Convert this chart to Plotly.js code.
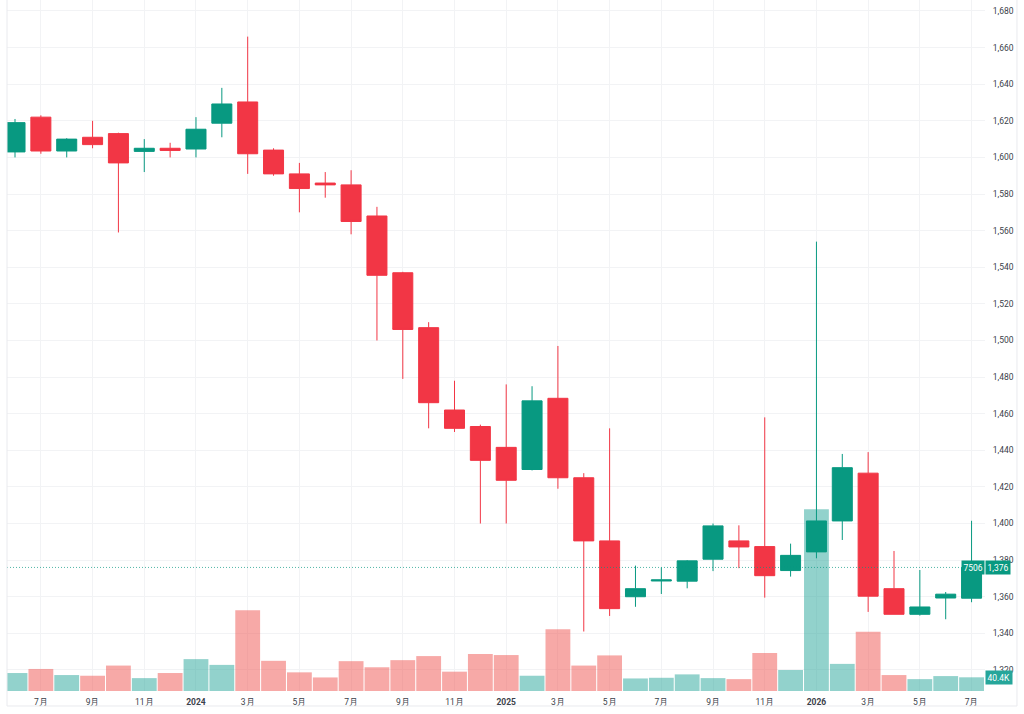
<!DOCTYPE html>
<html>
<head>
<meta charset="utf-8">
<script src="https://cdn.plot.ly/plotly-3.0.1.min.js"></script>
<style>
  html, body { margin: 0; padding: 0; background: #ffffff; }
  #chart { width: 1024px; height: 714px; }
</style>
</head>
<body>
<div id="chart"></div>
<script>
// ---- Data (monthly candles) ----
const months = [
  '2023-06','2023-07','2023-08','2023-09','2023-10','2023-11','2023-12',
  '2024-01','2024-02','2024-03','2024-04','2024-05','2024-06','2024-07','2024-08','2024-09','2024-10','2024-11','2024-12',
  '2025-01','2025-02','2025-03','2025-04','2025-05','2025-06','2025-07','2025-08','2025-09','2025-10','2025-11','2025-12',
  '2026-01','2026-02','2026-03','2026-04','2026-05','2026-06','2026-07'
];
const openP  = [1603, 1622, 1603.5, 1611, 1613, 1603.3, 1605, 1604.6, 1618.7, 1630.3, 1604, 1591, 1586, 1585, 1568, 1537, 1507, 1462, 1453,
                1441.6, 1429.5, 1468.4, 1425, 1390.5, 1360, 1368.6, 1368.5, 1380.5, 1390.5, 1387.4, 1374.3,
                1384.5, 1401.4, 1427.5, 1364.4, 1350.4, 1359.3, 1359.2];
const highP  = [1621, 1623, 1610.5, 1620, 1613.5, 1610, 1608, 1622, 1638, 1666, 1605, 1597, 1592, 1593, 1573, 1537.5, 1510, 1478, 1454,
                1476, 1475, 1497, 1427.5, 1452, 1377, 1376, 1380, 1400, 1399, 1458, 1389,
                1554, 1438, 1439, 1385, 1374.6, 1362.6, 1401.5];
const lowP   = [1600, 1602, 1600, 1605, 1559, 1592, 1600, 1600, 1611, 1591, 1590, 1570, 1578, 1558, 1500, 1479, 1452, 1450, 1400,
                1400, 1429, 1419, 1341, 1349.5, 1354.5, 1361.5, 1364.6, 1374, 1375.6, 1359.5, 1371,
                1381, 1391, 1351.7, 1350.4, 1349.7, 1347.7, 1357];
const closeP = [1619, 1603.5, 1610, 1607, 1597, 1605, 1603.8, 1615.4, 1629.2, 1602, 1591, 1583, 1585, 1565, 1535.6, 1506, 1466, 1452, 1434.5,
                1423.6, 1467, 1425, 1390.5, 1353.5, 1364.4, 1369.2, 1379.6, 1398.7, 1387.2, 1371.5, 1382.6,
                1401.4, 1430.5, 1360.3, 1350.4, 1354.4, 1361.4, 1376];
const volume = [53000, 65000, 47000, 45000, 75000, 38000, 53000, 94000, 77000, 238000, 89000, 55000, 40000, 88000, 70000, 91000, 103000, 57000, 109000,
                106000, 45000, 182000, 75000, 105000, 37000, 39000, 49000, 38000, 35000, 112000, 62000,
                536000, 80000, 175000, 47000, 35000, 44000, 40400];
const tickMonths = ['2023-07','2023-09','2023-11','2024-01','2024-03','2024-05','2024-07','2024-09','2024-11',
                    '2025-01','2025-03','2025-05','2025-07','2025-09','2025-11','2026-01','2026-03','2026-05','2026-07'];
const tickLabels = ['7月','9月','11月','<b>2024</b>','3月','5月','7月','9月','11月',
                    '<b>2025</b>','3月','5月','7月','9月','11月','<b>2026</b>','3月','5月','7月'];
const symbolLabel = '7506';

// ---- Styles ----
const UP = '#089981', DOWN = '#F23645';
const UP_VOL = 'rgba(38,166,154,0.5)', DOWN_VOL = 'rgba(239,83,80,0.5)';
const GRID = '#f2f3f5';
const TXT = '#3b3f4a';
const FONT = 'Roboto, "Liberation Sans", sans-serif';

const volColors = closeP.map((c, i) => (c >= openP[i] ? UP_VOL : DOWN_VOL));
const lastIdx = closeP.length - 1;
const lastClose = closeP[lastIdx];
const lastVol = volume[lastIdx];
const fmtPrice = v => Math.round(v).toLocaleString('en-US');
const fmtVol = v => (v / 1000).toFixed(1) + 'K';

const volTrace = {
  type: 'bar', x: months, y: volume, yaxis: 'y',
  marker: { color: volColors, line: { width: 0 } },
  hoverinfo: 'skip'
};
const candleTrace = {
  type: 'candlestick', x: months, open: openP, high: highP, low: lowP, close: closeP,
  yaxis: 'y2', whiskerwidth: 0,
  increasing: { line: { color: UP, width: 1 }, fillcolor: UP },
  decreasing: { line: { color: DOWN, width: 1 }, fillcolor: DOWN },
  hoverinfo: 'skip'
};

const layout = {
  width: 1024, height: 714,
  margin: { l: 7, r: 39, t: 0, b: 23, pad: 0 },
  paper_bgcolor: '#ffffff', plot_bgcolor: '#ffffff',
  showlegend: false,
  bargap: 0.04,
  boxgap: 0.226, boxgroupgap: 0,
  font: { family: FONT, size: 8.5, color: TXT },
  xaxis: {
    type: 'category', range: [-0.31, 37.52],
    tickmode: 'array', tickvals: tickMonths, ticktext: tickLabels,
    showgrid: true, gridcolor: GRID, gridwidth: 1,
    zeroline: false, showline: false,
    ticks: 'outside', ticklen: 3, tickcolor: 'rgba(0,0,0,0)',
    tickfont: { family: FONT, size: 8.5, color: TXT },
    rangeslider: { visible: false }, fixedrange: true
  },
  yaxis: {
    range: [0, 2038000], visible: false, showgrid: false, zeroline: false, fixedrange: true
  },
  yaxis2: {
    overlaying: 'y', side: 'right',
    range: [1308.5, 1686], tick0: 0, dtick: 20, tickformat: ',d',
    showgrid: true, gridcolor: GRID, gridwidth: 1,
    zeroline: false, showline: false,
    ticks: 'outside', ticklen: 5, tickcolor: 'rgba(0,0,0,0)',
    tickfont: { family: FONT, size: 8.5, color: TXT },
    fixedrange: true
  },
  shapes: [
    { type: 'line', xref: 'paper', yref: 'y2', x0: 0, x1: 1, y0: lastClose, y1: lastClose,
      line: { color: 'rgba(8,153,129,0.7)', width: 1, dash: '1px,2px' } },
    { type: 'line', xref: 'paper', yref: 'paper', x0: 0, x1: 0, y0: -0.0217, y1: 1,
      line: { color: '#e9eaee', width: 1 } },
    { type: 'line', xref: 'paper', yref: 'paper', x0: 0, x1: 1.0327, y0: -0.0217, y1: -0.0217,
      line: { color: '#e9eaee', width: 1 } },
    { type: 'line', xref: 'paper', yref: 'paper', x0: 1.0327, x1: 1.0327, y0: -0.0217, y1: 1,
      line: { color: '#e9eaee', width: 1 } }
  ],
  annotations: [
    { xref: 'paper', yref: 'y2', x: 1, y: lastClose, xanchor: 'left', yanchor: 'middle',
      text: fmtPrice(lastClose), showarrow: false, bgcolor: UP, borderpad: 1.5,
      font: { family: FONT, size: 8.5, color: '#ffffff' } },
    { xref: 'paper', yref: 'y2', x: 1, y: lastClose, xanchor: 'right', yanchor: 'middle',
      text: symbolLabel, showarrow: false, bgcolor: UP, borderpad: 1.5,
      font: { family: FONT, size: 8.5, color: '#ffffff' } },
    { xref: 'paper', yref: 'y', x: 1, y: lastVol, xanchor: 'left', yanchor: 'middle',
      text: fmtVol(lastVol), showarrow: false, bgcolor: '#26a69a', borderpad: 1.5,
      font: { family: FONT, size: 8.5, color: '#ffffff' } }
  ]
};

Plotly.newPlot('chart', [volTrace, candleTrace], layout, { displayModeBar: false, staticPlot: true });
</script>
</body>
</html>
